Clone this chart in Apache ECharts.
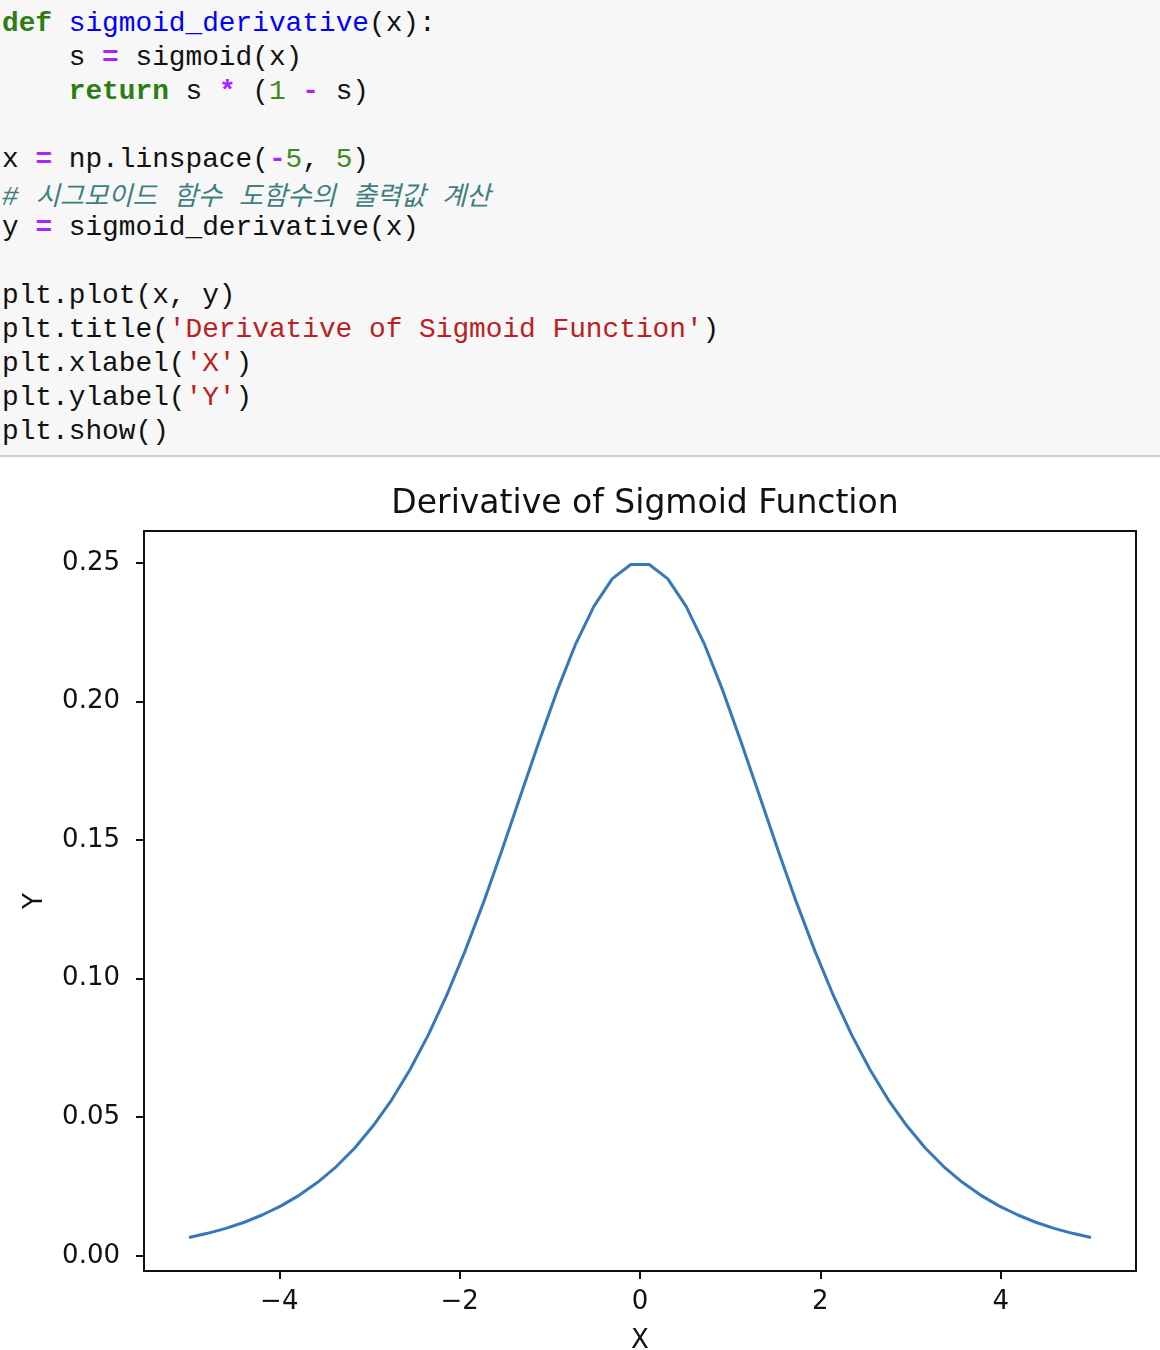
<!DOCTYPE html>
<html>
<head>
<meta charset="utf-8">
<script src="https://cdn.jsdelivr.net/npm/echarts@6/dist/echarts.min.js"></script>
<style>
html,body{margin:0;padding:0;background:#fff;width:1160px;height:1350px;overflow:hidden;}
#code{position:absolute;left:0;top:0;width:1160px;height:457px;background:#f7f7f7;border-bottom:2px solid #d0d0d0;box-sizing:border-box;padding-top:7px;padding-left:2px;}
#code .l{height:34px;line-height:34px;white-space:pre;font-family:"Liberation Mono","DejaVu Sans Mono",monospace;font-size:27.8px;color:#111;overflow:visible;}
.k{color:#2e7d14;font-weight:bold;}
.f{color:#0000ff;}
.o{color:#aa22ff;font-weight:bold;}
.n{color:#3d8a1e;}
.c{color:#3d8080;font-style:italic;}
.h{font-family:"Noto Sans CJK KR",sans-serif;font-size:26.4px;line-height:34px;}
.s{color:#ba2121;}
#chart{position:absolute;left:0;top:460px;width:1160px;height:890px;}
</style>
</head>
<body>
<div id="code">
<div class="l"><span class="k">def</span> <span class="f">sigmoid_derivative</span>(x):</div>
<div class="l">    s <span class="o">=</span> sigmoid(x)</div>
<div class="l">    <span class="k">return</span> s <span class="o">*</span> (<span class="n">1</span> <span class="o">-</span> s)</div>
<div class="l"> </div>
<div class="l">x <span class="o">=</span> np.linspace(<span class="o">-</span><span class="n">5</span>, <span class="n">5</span>)</div>
<div class="l"><span class="c"># <span class="h">시그모이드</span> <span class="h">함수</span> <span class="h">도함수의</span> <span class="h">출력값</span> <span class="h">계산</span></span></div>
<div class="l">y <span class="o">=</span> sigmoid_derivative(x)</div>
<div class="l"> </div>
<div class="l">plt.plot(x, y)</div>
<div class="l">plt.title(<span class="s">'Derivative of Sigmoid Function'</span>)</div>
<div class="l">plt.xlabel(<span class="s">'X'</span>)</div>
<div class="l">plt.ylabel(<span class="s">'Y'</span>)</div>
<div class="l">plt.show()</div>
</div>
<div id="chart"></div>
<script>
const titleText = 'Derivative of Sigmoid Function';
const xAxisName = 'X';
const yAxisName = 'Y';
const xTicks = [-4, -2, 0, 2, 4];
const yTicks = [0, 0.05, 0.10, 0.15, 0.20, 0.25];
const xValues = [-5.000,-4.796,-4.592,-4.388,-4.184,-3.980,-3.776,-3.571,-3.367,-3.163,
  -2.959,-2.755,-2.551,-2.347,-2.143,-1.939,-1.735,-1.531,-1.327,-1.122,
  -0.918,-0.714,-0.510,-0.306,-0.102,0.102,0.306,0.510,0.714,0.918,
  1.122,1.327,1.531,1.735,1.939,2.143,2.347,2.551,2.755,2.959,
  3.163,3.367,3.571,3.776,3.980,4.184,4.388,4.592,4.796,5.000];
const yValues = [0.0066,0.0081,0.0099,0.0121,0.0148,0.0180,0.0219,0.0266,0.0322,0.0389,
  0.0469,0.0562,0.0671,0.0797,0.0940,0.1100,0.1275,0.1463,0.1658,0.1853,
  0.2039,0.2207,0.2344,0.2443,0.2494,0.2494,0.2443,0.2344,0.2207,0.2039,
  0.1853,0.1658,0.1463,0.1275,0.1100,0.0940,0.0797,0.0671,0.0562,0.0469,
  0.0389,0.0322,0.0266,0.0219,0.0180,0.0148,0.0121,0.0099,0.0081,0.0066];

const chart = echarts.init(document.getElementById('chart'), null, {renderer:'canvas'});
const font = 'DejaVu Sans';
chart.setOption({
  animation: false,
  backgroundColor: '#fff',
  title: {
    text: titleText, left: 640, top: 23, textAlign: 'center',
    textStyle: {fontFamily: font, fontSize: 33, fontWeight: 'normal', color: '#111'}
  },
  grid: {left: 144, right: 24, top: 71, bottom: 79, outerBoundsMode: 'none', containLabel: false,
    show: true, borderColor: '#111', borderWidth: 2, backgroundColor: '#fff'},
  xAxis: {
    type: 'value', min: -5.5, max: 5.5,
    name: xAxisName, nameLocation: 'middle', nameGap: 57,
    nameTextStyle: {fontFamily: font, fontSize: 26, color: '#111'},
    axisLine: {show: true, onZero: false, lineStyle: {color: '#111', width: 2}},
    axisTick: {show: true, length: 8, customValues: xTicks, lineStyle: {color: '#111', width: 2}},
    axisLabel: {customValues: xTicks, margin: 18, fontFamily: font, fontSize: 26, color: '#111',
      formatter: v => (v < 0 ? '\u2212' + Math.abs(v) : String(v))},
    splitLine: {show: false}
  },
  yAxis: {
    type: 'value', min: -0.00549, max: 0.26149,
    name: yAxisName, nameLocation: 'middle', nameGap: 96, nameRotate: 90,
    nameTextStyle: {fontFamily: font, fontSize: 26, color: '#111'},
    axisLine: {show: true, onZero: false, lineStyle: {color: '#111', width: 2}},
    axisTick: {show: true, length: 8, customValues: yTicks, lineStyle: {color: '#111', width: 2}},
    axisLabel: {customValues: yTicks, margin: 24, fontFamily: font, fontSize: 26, color: '#111',
      formatter: v => v.toFixed(2)},
    splitLine: {show: false}
  },
  series: [{
    type: 'line',
    data: xValues.map((x, i) => [x, yValues[i]]),
    showSymbol: false,
    lineStyle: {color: '#3579b8', width: 3},
    silent: true
  }]
});
</script>
</body>
</html>
